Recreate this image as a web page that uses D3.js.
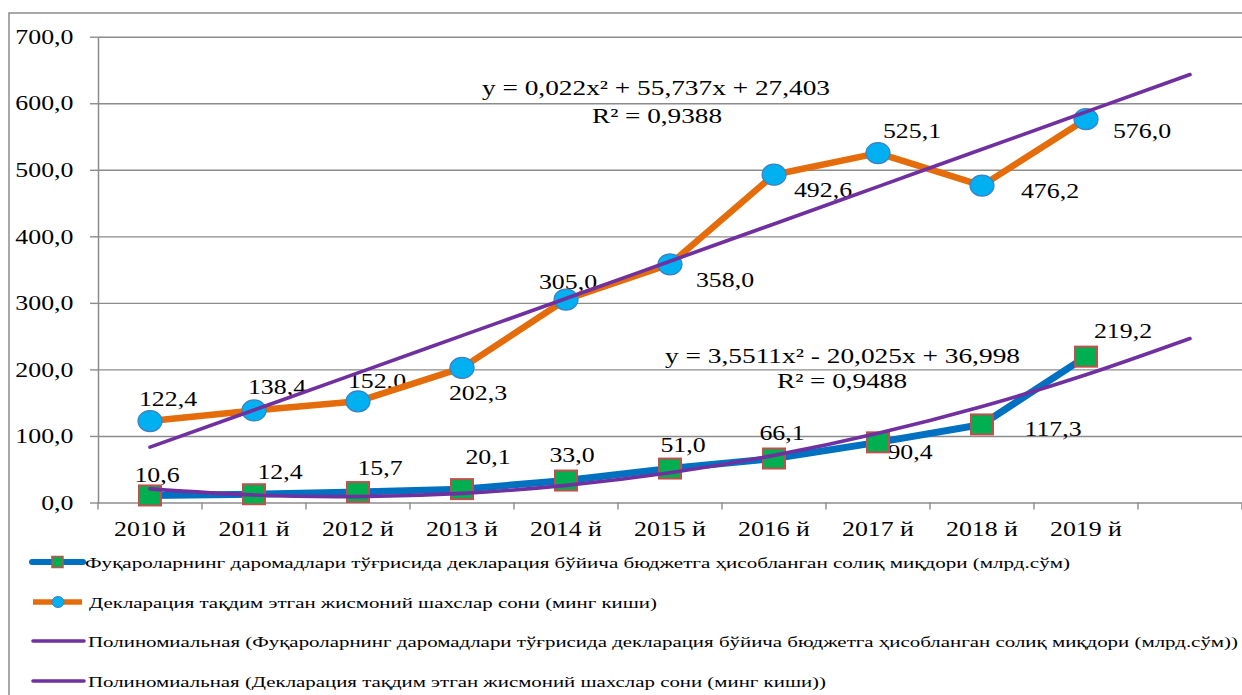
<!DOCTYPE html>
<html>
<head>
<meta charset="utf-8">
<script src="https://cdn.jsdelivr.net/npm/d3@7"></script>
<style>
body { margin: 0; background: #fff; }
text { font-family: "Liberation Serif", "Times New Roman", serif; fill: #000; }
</style>
</head>
<body>
<div id="chart"></div>
<script>
var width = 1242;
var height = 695;

// ten years plus one empty slot the trend lines are forecast into
var years = ["2010 й", "2011 й", "2012 й", "2013 й", "2014 й", "2015 й", "2016 й", "2017 й", "2018 й", "2019 й", ""];
var taxAmount = [10.6, 12.4, 15.7, 20.1, 33.0, 51.0, 66.1, 90.4, 117.3, 219.2];
var filers = [122.4, 138.4, 152.0, 202.3, 305.0, 358.0, 492.6, 525.1, 476.2, 576.0];
// polynomial trend values
var taxTrend = [20.5, 11.2, 8.9, 13.7, 25.7, 44.7, 70.8, 104.1, 144.4, 191.9, 246.4];
var filersTrend = [83.2, 139.0, 194.8, 250.7, 306.6, 362.6, 418.6, 474.7, 530.8, 587.0, 643.2];
var yTicks = [0, 100, 200, 300, 400, 500, 600, 700];

var taxEquation = ["y = 3,5511x² - 20,025x + 36,998", "R² = 0,9488"];
var filersEquation = ["y = 0,022x² + 55,737x + 27,403", "R² = 0,9388"];
var legendNames = [
  "Фуқароларнинг  даромадлари тўғрисида декларация бўйича бюджетга ҳисобланган  солиқ миқдори (млрд.сўм)",
  "Декларация тақдим этган жисмоний шахслар сони (минг киши)",
  "Полиномиальная (Фуқароларнинг  даромадлари тўғрисида декларация бўйича бюджетга ҳисобланган  солиқ миқдори (млрд.сўм))",
  "Полиномиальная (Декларация тақдим этган жисмоний шахслар сони (минг киши))"
];

// where each value label sits relative to its point (dx to centre, dy to baseline)
var taxLabelShift = [[7,-13],[26,-15],[22,-17],[26,-25],[6,-19],[13,-17],[8,-19],[32,17],[71,12],[37,-19]];
var filerLabelShift = [[18,-15],[23,-16],[19,-13],[16,32],[2,-11],[55,23],[49,22],[34,-15],[68,12],[56,19]];

var grey = "#8c8c8c";
var blue = "#0070C0";
var orange = "#E46C0A";
var purple = "#7030A0";
var serif = "Liberation Serif, Times New Roman, serif";

var svg = d3.select("#chart")
  .append("svg")
  .attr("width", width)
  .attr("height", height);

// outer chart border
svg.append("rect")
  .attr("x", 9).attr("y", 13)
  .attr("width", width + 20).attr("height", height + 20)
  .style("fill", "none").style("stroke", grey).style("stroke-width", 1.5);

var x = d3.scaleBand().domain(d3.range(years.length)).range([98, 1242]);
var y = d3.scaleLinear().domain([0, 700]).range([502.5, 36.7]);
var cx = function(i) { return x(i) + x.bandwidth() / 2; };

function fmt(v) { return v.toFixed(1).replace(".", ","); }

// stretched serif text, the source picture is wider than it is tall
function label(g, px, py, str, size, sx, anchor) {
  return g.append("text")
    .attr("transform", "translate(" + px + "," + py + ") scale(" + sx + ",1)")
    .attr("text-anchor", anchor || "middle")
    .style("font-size", size + "px")
    .text(str);
}

// gridlines
svg.append("g")
  .attr("transform", "translate(98,0)")
  .call(d3.axisLeft(y).tickValues(yTicks).tickSize(-(1242 - 98)).tickFormat(""))
  .call(function(g) { g.select(".domain").remove(); })
  .selectAll("line").style("stroke", grey).style("stroke-width", 1.4);

// y axis
var yAxis = svg.append("g")
  .attr("transform", "translate(98,0)")
  .call(d3.axisLeft(y).tickValues(yTicks).tickSize(8).tickSizeOuter(0).tickFormat(fmt))
  .attr("font-family", serif);
yAxis.select(".domain").style("stroke", grey).style("stroke-width", 1.5);
yAxis.selectAll("line").style("stroke", grey).style("stroke-width", 1.4);
yAxis.selectAll("text")
  .attr("x", -20).attr("transform", "scale(1.23,1)")
  .style("font-size", "21px");

// x axis labels
var xAxis = svg.append("g")
  .attr("transform", "translate(0," + y(0) + ")")
  .call(d3.axisBottom(x).tickSize(0).tickFormat(function(i) { return years[i]; }))
  .attr("font-family", serif);
xAxis.select(".domain").remove();
xAxis.selectAll("text")
  .attr("y", 19).attr("transform", "scale(1.23,1)")
  .style("font-size", "21px");

// x tick marks sit between categories
svg.append("g").selectAll("line")
  .data(d3.range(years.length + 1))
  .enter().append("line")
  .attr("x1", function(i) { return x.range()[0] + i * x.step(); })
  .attr("x2", function(i) { return x.range()[0] + i * x.step(); })
  .attr("y1", y(0)).attr("y2", y(0) + 7)
  .style("stroke", grey).style("stroke-width", 1.4);

// value labels (drawn under the lines, as in the picture)
var labels = svg.append("g");
filers.forEach(function(v, i) {
  label(labels, cx(i) + filerLabelShift[i][0], y(v) + filerLabelShift[i][1], fmt(v), 21, 1.23);
});
taxAmount.forEach(function(v, i) {
  label(labels, cx(i) + taxLabelShift[i][0], y(v) + taxLabelShift[i][1], fmt(v), 21, 1.23);
});

// trend equations
var eq = svg.append("g");
eq.append("text").attr("x", 482).attr("y", 95).attr("textLength", 348).attr("lengthAdjust", "spacingAndGlyphs")
  .style("font-size", "21px").text(filersEquation[0]);
eq.append("text").attr("x", 592).attr("y", 123).attr("textLength", 130).attr("lengthAdjust", "spacingAndGlyphs")
  .style("font-size", "21px").text(filersEquation[1]);
eq.append("text").attr("x", 665).attr("y", 363).attr("textLength", 355).attr("lengthAdjust", "spacingAndGlyphs")
  .style("font-size", "21px").text(taxEquation[0]);
eq.append("text").attr("x", 777).attr("y", 388).attr("textLength", 130).attr("lengthAdjust", "spacingAndGlyphs")
  .style("font-size", "21px").text(taxEquation[1]);

var line = d3.line()
  .x(function(d, i) { return cx(i); })
  .y(function(d) { return y(d); });

svg.append("path").datum(filers).attr("d", line)
  .style("fill", "none").style("stroke", orange).style("stroke-width", 6.5).style("stroke-linejoin", "round");
svg.append("path").datum(taxAmount).attr("d", line)
  .style("fill", "none").style("stroke", blue).style("stroke-width", 7).style("stroke-linejoin", "round");

// markers
svg.append("g").selectAll("ellipse")
  .data(filers).enter().append("ellipse")
  .attr("cx", function(d, i) { return cx(i); })
  .attr("cy", function(d) { return y(d); })
  .attr("rx", 12).attr("ry", 10.5)
  .style("fill", "#00B0F0").style("stroke", "#3F7FC4").style("stroke-width", 1.2);

svg.append("g").selectAll("rect")
  .data(taxAmount).enter().append("rect")
  .attr("x", function(d, i) { return cx(i) - 11; })
  .attr("y", function(d) { return y(d) - 10; })
  .attr("width", 22).attr("height", 20)
  .style("fill", "#00B050").style("stroke", "#C0504D").style("stroke-width", 2);

// polynomial trend lines on top
var trend = d3.line()
  .x(function(d, i) { return cx(i); })
  .y(function(d) { return y(d); })
  .curve(d3.curveNatural);
[taxTrend, filersTrend].forEach(function(t) {
  svg.append("path").datum(t).attr("d", trend)
    .style("fill", "none").style("stroke", purple).style("stroke-width", 3.6).style("stroke-linecap", "round");
});

// legend
var legendY = [562, 602, 641, 681];
var legendEnd = [1070, 657, 1238, 826];
var legendStart = [85, 89, 88, 88];
var legend = svg.append("g");
legendNames.forEach(function(name, i) {
  var ly = legendY[i];
  if (i === 0) {
    legend.append("line").attr("x1", 32).attr("x2", 83).attr("y1", ly).attr("y2", ly)
      .style("stroke", blue).style("stroke-width", 6).style("stroke-linecap", "round");
    legend.append("rect").attr("x", 52).attr("y", ly - 5.5).attr("width", 11).attr("height", 11)
      .style("fill", "#00B050").style("stroke", "#C0504D").style("stroke-width", 1.5);
  } else if (i === 1) {
    legend.append("line").attr("x1", 33).attr("x2", 82).attr("y1", ly).attr("y2", ly)
      .style("stroke", orange).style("stroke-width", 5.5);
    legend.append("ellipse").attr("cx", 58).attr("cy", ly).attr("rx", 6).attr("ry", 5.5)
      .style("fill", "#00B0F0").style("stroke", "#3F7FC4").style("stroke-width", 1);
  } else {
    legend.append("line").attr("x1", 33).attr("x2", 84).attr("y1", ly).attr("y2", ly)
      .style("stroke", purple).style("stroke-width", 3.6).style("stroke-linecap", "round");
  }
  legend.append("text")
    .attr("x", legendStart[i]).attr("y", ly + 6)
    .attr("textLength", legendEnd[i] - legendStart[i]).attr("lengthAdjust", "spacingAndGlyphs")
    .style("font-size", "15.5px")
    .text(name);
});
</script>
</body>
</html>
